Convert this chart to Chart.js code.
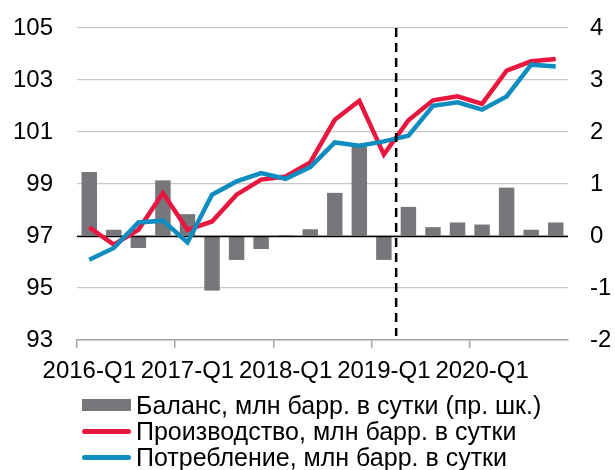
<!DOCTYPE html>
<html>
<head>
<meta charset="utf-8">
<script src="https://cdn.jsdelivr.net/npm/chart.js@4.4.1/dist/chart.umd.min.js"></script>
<style>
  body { margin: 0; background: #fff; }
  #wrap { position: relative; width: 615px; height: 470px; }
  #legend { position: absolute; left: 82px; top: 392px; font: 25px "Liberation Sans", Arial, sans-serif; color: #000; }
  #legend .item { display: flex; align-items: center; height: 26.3px; white-space: nowrap; }
  #legend .mark { width: 49px; margin-right: 5px; flex: none; }
</style>
</head>
<body>
<div id="wrap">
  <canvas id="oil" width="615" height="470"></canvas>
  <div id="legend"></div>
</div>
<script>
const quarters = [
  '2016-Q1', '2016-Q2', '2016-Q3', '2016-Q4',
  '2017-Q1', '2017-Q2', '2017-Q3', '2017-Q4',
  '2018-Q1', '2018-Q2', '2018-Q3', '2018-Q4',
  '2019-Q1', '2019-Q2', '2019-Q3', '2019-Q4',
  '2020-Q1', '2020-Q2', '2020-Q3', '2020-Q4'
];
// баланс, млн барр. в сутки (правая шкала)
const balance = [1.23, 0.12, -0.23, 1.07, 0.42, -1.05, -0.46, -0.25, 0.02, 0.13,
                 0.83, 1.72, -0.46, 0.56, 0.17, 0.26, 0.22, 0.93, 0.12, 0.26];
const production = [97.33, 96.67, 97.24, 98.65, 97.24, 97.56, 98.59, 99.17, 99.29, 99.83,
                    101.47, 102.2, 100.13, 101.45, 102.22, 102.37, 102.08, 103.36, 103.72, 103.81];
const consumption = [96.09, 96.54, 97.52, 97.59, 96.75, 98.59, 99.1, 99.42, 99.2, 99.65,
                     100.6, 100.47, 100.64, 100.86, 102.01, 102.14, 101.86, 102.37, 103.59, 103.52];
// прогноз начинается после 2019-Q1
const forecastFrom = 12.5;

const font = { family: '"Liberation Sans", Arial, sans-serif', size: 24 };
const clear = 'rgba(0,0,0,0)';

// нулевая линия баланса поверх столбцов, но под линиями
const zeroLine = {
  id: 'zeroLine',
  afterDatasetDraw(chart, args) {
    if (args.meta.type !== 'bar') return;
    const { ctx, chartArea } = chart;
    const y = Math.round(chart.scales.y1.getPixelForValue(0)) + 0.5;
    ctx.save();
    ctx.strokeStyle = '#000';
    ctx.lineWidth = 1.5;
    ctx.beginPath();
    ctx.moveTo(chartArea.left, y);
    ctx.lineTo(chartArea.right, y);
    ctx.stroke();
    ctx.restore();
  }
};

const forecastLine = {
  id: 'forecastLine',
  afterDatasetsDraw(chart) {
    const { ctx, chartArea } = chart;
    const x = chart.scales.x.getPixelForValue(forecastFrom);
    ctx.save();
    ctx.strokeStyle = '#000';
    ctx.lineWidth = 2.5;
    ctx.setLineDash([9, 6]);
    ctx.beginPath();
    ctx.moveTo(x, chartArea.top);
    ctx.lineTo(x, chartArea.bottom - 4);
    ctx.stroke();
    ctx.restore();
  }
};

const chart = new Chart(document.getElementById('oil'), {
  type: 'bar',
  data: {
    labels: quarters,
    datasets: [
      {
        type: 'bar',
        label: 'Баланс, млн барр. в сутки (пр. шк.)',
        data: balance,
        yAxisID: 'y1',
        backgroundColor: '#77777b',
        barPercentage: 0.63,
        categoryPercentage: 1,
        order: 3
      },
      {
        type: 'line',
        label: 'Производство, млн барр. в сутки',
        data: production,
        yAxisID: 'y',
        borderColor: '#e8173f',
        backgroundColor: '#e8173f',
        borderWidth: 4.5,
        pointRadius: 0,
        tension: 0,
        order: 2
      },
      {
        type: 'line',
        label: 'Потребление, млн барр. в сутки',
        data: consumption,
        yAxisID: 'y',
        borderColor: '#0f8dc0',
        backgroundColor: '#0f8dc0',
        borderWidth: 4.5,
        pointRadius: 0,
        tension: 0,
        order: 1
      }
    ]
  },
  options: {
    responsive: false,
    animation: false,
    layout: { padding: { top: 28, bottom: 75, left: 0, right: 0 } },
    plugins: {
      legend: { display: false },
      tooltip: { enabled: false }
    },
    scales: {
      x: {
        offset: true,
        grid: {
          offset: true,
          drawOnChartArea: false,
          drawTicks: true,
          tickLength: 8,
          tickColor: (c) => (c.index % 4 === 0 ? '#a6a6a6' : clear),
          lineWidth: 1.5
        },
        border: { display: true, color: '#a6a6a6', width: 1.5 },
        ticks: {
          autoSkip: false,
          maxRotation: 0,
          minRotation: 0,
          padding: 9,
          color: '#000',
          font: font,
          callback: (v, i) => (i % 4 === 0 ? quarters[i] : '')
        },
        afterFit: (s) => { s.height = 55; }
      },
      y: {
        position: 'left',
        min: 93,
        max: 105,
        ticks: { stepSize: 2, padding: 0, color: '#000', font: font },
        // невидимые засечки отодвигают подписи от области графика
        grid: { color: '#c8c8c8', lineWidth: 1.2, drawTicks: true, tickLength: 24, tickColor: clear },
        border: { display: false },
        afterFit: (s) => { s.width = 77; }
      },
      y1: {
        position: 'right',
        min: -2,
        max: 4,
        ticks: { stepSize: 1, padding: 0, color: '#000', font: font },
        grid: { drawOnChartArea: false, drawTicks: true, tickLength: 22, tickColor: clear },
        border: { display: false },
        afterFit: (s) => { s.width = 47; }
      }
    }
  },
  plugins: [zeroLine, forecastLine]
});

// легенда под графиком, строки выровнены по левому краю
const legend = document.getElementById('legend');
chart.data.datasets.forEach((ds) => {
  const item = document.createElement('div');
  item.className = 'item';
  const mark = document.createElement('span');
  mark.className = 'mark';
  mark.style.background = ds.backgroundColor;
  if (ds.type === 'bar') {
    mark.style.height = '12.5px';
  } else {
    mark.style.height = '4.5px';
    mark.style.borderRadius = '3px';
  }
  const text = document.createElement('span');
  text.textContent = ds.label;
  item.appendChild(mark);
  item.appendChild(text);
  legend.appendChild(item);
});
</script>
</body>
</html>
